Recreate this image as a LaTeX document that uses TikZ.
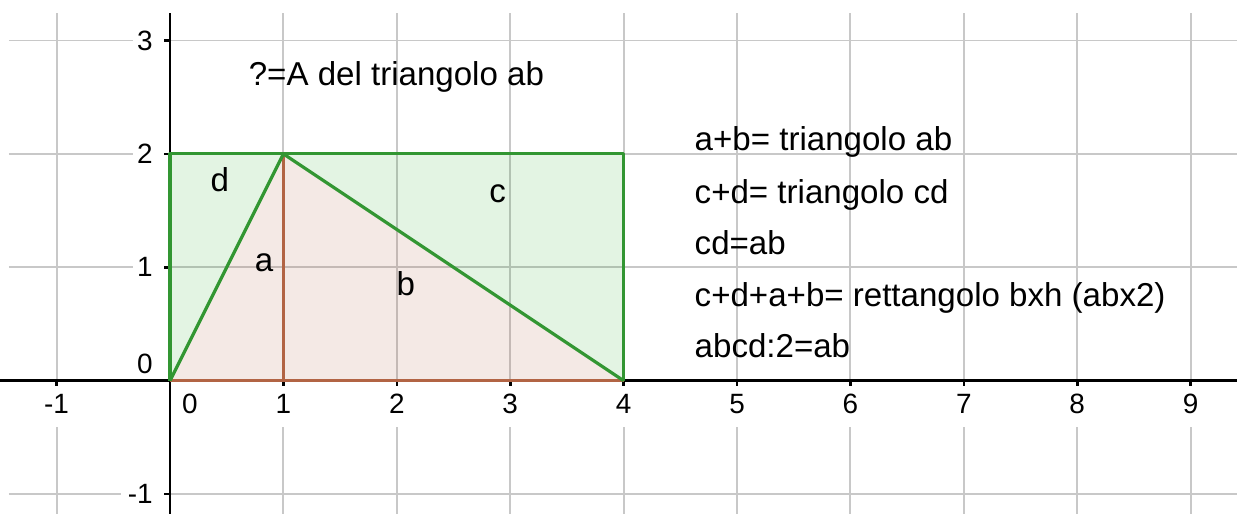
\documentclass[tikz,border=0pt]{standalone}
\usepackage{fontspec}
\setmainfont{Liberation Sans}
\usetikzlibrary{positioning}
\definecolor{ggbGreen}{RGB}{50,150,50}
\definecolor{ggbBrown}{RGB}{178,100,68}
\definecolor{ggbGrid}{RGB}{200,200,200}
\def\xLeft{-1.499}
\def\xRight{9.409}
\def\yTop{3.357}
\def\yBottom{-1.175}
\tikzset{% GeoGebra-like styles
  grid line/.style  = {draw=ggbGrid, line width=0.5pt},
  axis line/.style  = {draw=black, line width=0.65pt},
  tick label/.style = {inner sep=0, font=\fontsize{7}{8}\selectfont},
  note/.style       = {inner sep=0, anchor=base west, font=\fontsize{8.3}{10}\selectfont},
  region/.style     = {inner sep=0, font=\fontsize{8.3}{10}\selectfont},
  green side/.style = {draw=ggbGreen, line width=0.8pt},
  brown side/.style = {draw=ggbBrown, line width=0.8pt},
}
\begin{document}
\begin{tikzpicture}[line join=round]
        \useasboundingbox (\xLeft,\yBottom) rectangle (\xRight,\yTop);

        % grid
        \foreach \gx in {-1,1,2,...,9} {
          \draw[grid line] (\gx,3.24) -- (\gx,0);
          \draw[grid line] (\gx,-0.41) -- (\gx,\yBottom);
        }
        \foreach \gy in {1,2,3} {
          \draw[grid line] (-1.42,\gy) -- (-0.33,\gy);
          \draw[grid line] (0,\gy) -- (\xRight,\gy);
        }
        \draw[grid line] (-1.42,-1) -- (-0.43,-1);
        \draw[grid line] (0,-1) -- (\xRight,-1);

        % axes
        \draw[axis line] (\xLeft,0) -- (\xRight,0);
        \draw[axis line] (0,3.24) -- (0,\yBottom);
        \foreach \gx in {-1,1,2,...,9} {
          \draw[axis line] (\gx,0) -- (\gx,-0.05);
          \node[tick label] at (\gx,-0.203) (XT\gx) {\gx};
        }
        \foreach \gy in {-1,1,2,3} {
          \draw[axis line] (0,\gy) -- (-0.05,\gy);
          \node[tick label, anchor=east] at (-0.145,\gy) (YT\gy) {\gy};
        }
        \node[tick label] at (0.176,-0.203) (XTzero) {0};
        \node[tick label, anchor=east] at (-0.145,0.15) (YTzero) {0};

        % points
        \coordinate (O) at (0,0);
        \coordinate (H) at (1,0);
        \coordinate (P) at (1,2);
        \coordinate (S) at (0,2);
        \coordinate (R) at (4,2);
        \coordinate (Q) at (4,0);

        % regions
        \fill[green!60!black, fill opacity=0.11] (O) -- (S) -- (P) -- cycle;
        \fill[green!60!black, fill opacity=0.11] (P) -- (R) -- (Q) -- cycle;
        \fill[ggbBrown, fill opacity=0.14] (O) -- (P) -- (Q) -- cycle;

        \draw[green side] (O) -- (S) -- (R) -- (Q);
        \draw[brown side] (O) -- (Q);
        \draw[brown side] (H) -- (P);
        \draw[green side] (O) -- (P) -- (Q);

        \node[region] at (0.44,1.77) (LabD) {d};
        \node[region] at (2.89,1.65) (LabC) {c};
        \node[region] at (0.83,1.04) (LabA) {a};
        \node[region] at (2.08,0.86) (LabB) {b};

        % text
        \node[note] at (0.688,2.606) (Ask) {?=A del triangolo ab};

        \node[note] at (4.62,2.032) (EqAB) {a+b= triangolo ab};
        \node[note] at (4.62,1.564) (EqCD) {c+d= triangolo cd};
        \node[note] at (4.62,1.113) (EqSame) {cd=ab};
        \node[note] at (4.62,0.654) (EqRect) {c+d+a+b= rettangolo bxh (abx2)};
        \node[note] at (4.62,0.203) (EqHalf) {abcd:2=ab};

\end{tikzpicture}
\end{document}
